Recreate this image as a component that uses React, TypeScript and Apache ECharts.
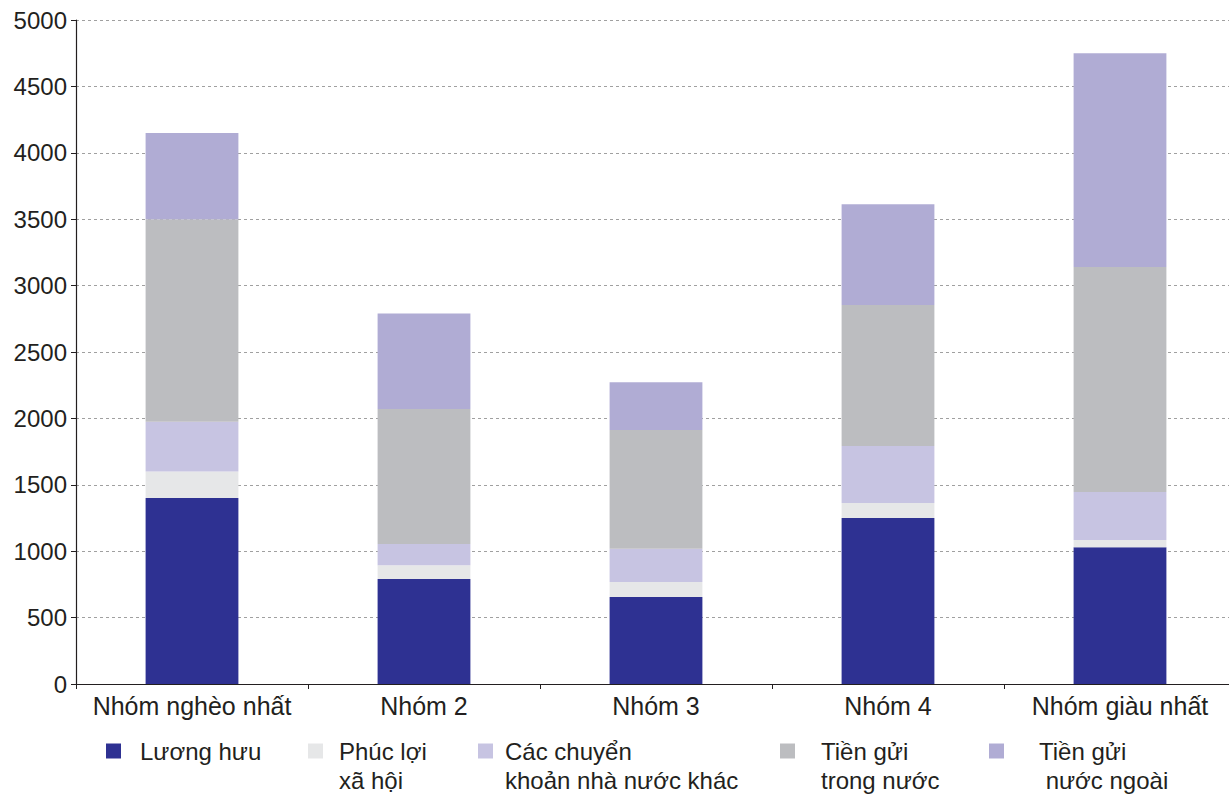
import React, { useEffect, useRef } from 'react';
import * as echarts from 'echarts';

const categories = ['Nhóm nghèo nhất', 'Nhóm 2', 'Nhóm 3', 'Nhóm 4', 'Nhóm giàu nhất'];
const seriesNames = [
  'Lương hưu',
  'Phúc lợi xã hội',
  'Các chuyển khoản nhà nước khác',
  'Tiền gửi trong nước',
  'Tiền gửi nước ngoài',
];
// legend texts as printed (broken over two lines)
const legendLabels = [
  ['Lương hưu', ' '],
  ['Phúc lợi', 'xã hội'],
  ['Các chuyển', 'khoản nhà nước khác'],
  ['Tiền gửi', 'trong nước'],
  ['Tiền gửi', ' nước ngoài'],
];
const pension = [1400, 790, 655, 1250, 1030];
const welfare = [200, 105, 113, 113, 55];
const otherTransfers = [375, 160, 250, 430, 360];
const domestic = [1525, 1015, 895, 1060, 1695];
const foreign = [650, 720, 360, 760, 1610];
const yTicks = [0, 500, 1000, 1500, 2000, 2500, 3000, 3500, 4000, 4500, 5000];

const colors = ['#2e3192', '#e6e7e8', '#c7c4e2', '#bcbdc0', '#b0acd4'];
const legendLeft = [106, 308, 478, 780, 989];
const legendGap = [14, 11, 7, 21, 30];
const textColor = '#231f20';
const font = 'Liberation Sans, Arial, Helvetica, sans-serif';

const App: React.FC = () => {
  const chartRef = useRef<HTMLDivElement>(null);

  useEffect(() => {
    const chart = echarts.init(chartRef.current, null, { renderer: 'svg' });
    const values = [pension, welfare, otherTransfers, domestic, foreign];

    const option = {
      animation: false,
      backgroundColor: '#ffffff',
      textStyle: { fontFamily: font },
      // the plot runs a little past the right edge of the picture
      grid: { left: 76, right: 0, top: 20, bottom: 110 },
      legend: seriesNames.map((name, i) => ({
        data: [name],
        left: legendLeft[i],
        top: 707.5,
        padding: 0,
        selectedMode: false,
        itemWidth: 15,
        itemHeight: 15,
        icon: 'rect',
        // blank first line keeps the icon level with the first text line
        formatter: () => ' \n' + legendLabels[i].join('\n'),
        textStyle: {
          fontFamily: font,
          fontSize: 24,
          lineHeight: 29,
          color: textColor,
          padding: [0, 0, 0, legendGap[i]],
        },
      })),
      xAxis: {
        type: 'category',
        data: categories,
        axisLine: { lineStyle: { color: textColor, width: 1.2 } },
        axisTick: { show: true, interval: 0, length: 5, lineStyle: { color: textColor } },
        axisLabel: { color: textColor, fontSize: 25, fontFamily: font, margin: 9, interval: 0 },
      },
      yAxis: {
        type: 'value',
        min: yTicks[0],
        max: yTicks[yTicks.length - 1],
        interval: yTicks[1] - yTicks[0],
        axisLine: { show: true, lineStyle: { color: textColor, width: 1.2 } },
        axisTick: { show: true, length: 5, lineStyle: { color: textColor } },
        axisLabel: {
          color: textColor,
          fontSize: 24,
          fontFamily: font,
          margin: 9,
          formatter: (v: number) => String(v),
        },
        splitLine: {
          show: true,
          lineStyle: { color: '#a0a0a0', width: 1, type: [3, 3] },
        },
      },
      series: seriesNames.map((name, i) => ({
        name,
        type: 'bar',
        stack: 'total',
        barWidth: '40%',
        data: values[i],
        itemStyle: { color: colors[i] },
      })),
    };

    chart.setOption(option);

    return () => {
      chart.dispose();
    };
  }, []);

  return (
    <div
      style={{
        position: 'fixed',
        left: 0,
        top: 0,
        width: 1229,
        height: 794,
        overflow: 'hidden',
        background: '#fff',
      }}
    >
      <div ref={chartRef} style={{ width: 1236, height: 794 }} />
    </div>
  );
};

export default App;
